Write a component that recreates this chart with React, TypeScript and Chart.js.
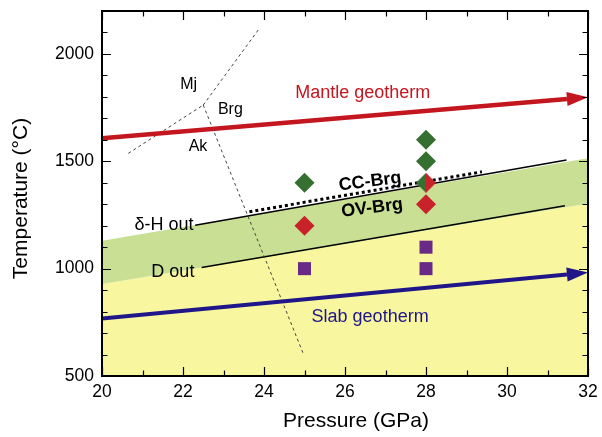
import React, { useEffect, useRef } from 'react';
import Chart from 'chart.js/auto';

// ---- axis ranges and tick labels ----
const pressureRange = [20, 32];
const temperatureRange = [500, 2200];
const pressureLabels = [20, 22, 24, 26, 28, 30, 32];
const temperatureLabels = [500, 1000, 1500, 2000];

// ---- experimental points ----
const greenDiamonds = [{ x: 25, y: 1400 }, { x: 28, y: 1600 }, { x: 28, y: 1500 }];
const redDiamonds = [{ x: 25, y: 1200 }, { x: 28, y: 1300 }];
const splitDiamonds = [{ x: 28, y: 1400 }];
const purpleSquares = [{ x: 25, y: 1000 }, { x: 28, y: 1100 }, { x: 28, y: 1000 }];

// ---- regions and boundaries ----
const yellowTop = [{ x: 20, y: 928 }, { x: 32, y: 1304 }];
const greenTop = [{ x: 20, y: 1130 }, { x: 32, y: 1514 }];
const deltaHOut = [{ x: 22.3, y: 1202 }, { x: 31.47, y: 1506 }];
const dOut = [{ x: 22.46, y: 1005 }, { x: 31.43, y: 1293 }];
const ccBrg = [{ x: 23.64, y: 1265 }, { x: 29.38, y: 1451 }];
const mjBrg = [{ x: 22.5, y: 1762 }, { x: 23.86, y: 2112 }];
const akMj = [{ x: 20.65, y: 1537 }, { x: 22.5, y: 1762 }];
const akBrg = [{ x: 22.5, y: 1762 }, { x: 24.97, y: 604 }];

// ---- geotherms (line up to arrow base) and arrow tips ----
const mantleGeotherm = [{ x: 20, y: 1607 }, { x: 31.48, y: 1790 }];
const mantleTip = { x: 32, y: 1798 };
const slabGeotherm = [{ x: 20, y: 768 }, { x: 31.48, y: 973 }];
const slabTip = { x: 32, y: 982 };

const FONT = "'Liberation Sans', Arial, Helvetica, sans-serif";
const RED_LINE = '#c3161f';
const NAVY = '#20168a';
const GREEN_PT = '#357031';
const RED_PT = '#c8222a';
const PURPLE_PT = '#682a86';
const GREEN_BAND = '#c8df94';
const YELLOW_BAND = '#f8f69e';

const annotations = [
  { text: 'Mantle geotherm', x: 26.44, y: 1818, color: RED_LINE, size: 18, weight: 'normal', rot: 0 },
  { text: 'Slab geotherm', x: 26.62, y: 775, color: NAVY, size: 18, weight: 'normal', rot: 0 },
  { text: 'CC-Brg', x: 26.62, y: 1405, color: '#000', size: 18, weight: 'bold', rot: -7 },
  { text: 'OV-Brg', x: 26.67, y: 1282, color: '#000', size: 18, weight: 'bold', rot: -7 },
  { text: 'δ-H out', x: 21.53, y: 1203, color: '#000', size: 18, weight: 'normal', rot: 0 },
  { text: 'D out', x: 21.75, y: 985, color: '#000', size: 18, weight: 'normal', rot: 0 },
  { text: 'Mj', x: 22.14, y: 1856, color: '#000', size: 16, weight: 'normal', rot: 0 },
  { text: 'Brg', x: 23.17, y: 1739, color: '#000', size: 16, weight: 'normal', rot: 0 },
  { text: 'Ak', x: 22.37, y: 1568, color: '#000', size: 16, weight: 'normal', rot: 0 },
];

const arrows = [
  { base: mantleGeotherm[mantleGeotherm.length - 1], tip: mantleTip, color: RED_LINE, half: 7 },
  { base: slabGeotherm[slabGeotherm.length - 1], tip: slabTip, color: NAVY, half: 7 },
];

export default function App() {
  const ref = useRef<HTMLCanvasElement>(null);

  useEffect(() => {
    const canvas = ref.current!;
    const split = document.createElement('canvas');
    split.width = 20;
    split.height = 20;
    const s = split.getContext('2d')!;
    s.fillStyle = GREEN_PT;
    s.beginPath(); s.moveTo(10, 0); s.lineTo(0, 10); s.lineTo(10, 20); s.closePath(); s.fill();
    s.fillStyle = RED_PT;
    s.beginPath(); s.moveTo(10, 0); s.lineTo(20, 10); s.lineTo(10, 20); s.closePath(); s.fill();

    const lineDs = (data: any[], color: string, width: number, order: number, dash: number[] = []) => ({
      data,
      borderColor: color,
      borderWidth: width,
      borderDash: dash,
      pointRadius: 0,
      fill: false,
      order,
      borderCapStyle: 'butt',
    });

    const overlay = {
      id: 'overlay',
      afterDatasetsDraw(chart: any) {
        const ctx = chart.ctx;
        const xs = chart.scales.x;
        const ys = chart.scales.y;
        // arrowheads
        arrows.forEach((a) => {
          const bx = xs.getPixelForValue(a.base.x), by = ys.getPixelForValue(a.base.y);
          const tx = xs.getPixelForValue(a.tip.x), ty = ys.getPixelForValue(a.tip.y);
          const ang = Math.atan2(ty - by, tx - bx);
          const nx = -Math.sin(ang) * a.half, ny = Math.cos(ang) * a.half;
          ctx.save();
          ctx.fillStyle = a.color;
          ctx.beginPath();
          ctx.moveTo(tx, ty);
          ctx.lineTo(bx + nx, by + ny);
          ctx.lineTo(bx - nx, by - ny);
          ctx.closePath();
          ctx.fill();
          ctx.restore();
        });
        // text labels
        annotations.forEach((t) => {
          ctx.save();
          ctx.translate(xs.getPixelForValue(t.x), ys.getPixelForValue(t.y));
          ctx.rotate((t.rot * Math.PI) / 180);
          ctx.font = `${t.weight} ${t.size}px ${FONT}`;
          ctx.fillStyle = t.color;
          ctx.textAlign = 'center';
          ctx.textBaseline = 'middle';
          ctx.fillText(t.text, 0, 0);
          ctx.restore();
        });
      },
      afterDraw(chart: any) {
        const ctx = chart.ctx;
        const a = chart.chartArea;
        const xs = chart.scales.x;
        const ys = chart.scales.y;
        ctx.save();
        ctx.strokeStyle = '#000';
        ctx.lineWidth = 1.2;
        xs.ticks.forEach((t: any) => {
          const px = Math.round(xs.getPixelForValue(t.value)) + 0.5;
          const len = pressureLabels.includes(t.value) ? 9 : 5.5;
          ctx.beginPath();
          ctx.moveTo(px, a.bottom); ctx.lineTo(px, a.bottom - len);
          ctx.moveTo(px, a.top); ctx.lineTo(px, a.top + len);
          ctx.stroke();
        });
        ys.ticks.forEach((t: any) => {
          const py = Math.round(ys.getPixelForValue(t.value)) + 0.5;
          const len = temperatureLabels.includes(t.value) ? 9 : 5.5;
          ctx.beginPath();
          ctx.moveTo(a.left, py); ctx.lineTo(a.left + len, py);
          ctx.moveTo(a.right, py); ctx.lineTo(a.right - len, py);
          ctx.stroke();
        });
        ctx.lineWidth = 2;
        ctx.strokeRect(a.left, a.top, a.right - a.left, a.bottom - a.top);
        // axis titles
        ctx.fillStyle = '#000';
        ctx.font = `21px ${FONT}`;
        ctx.textAlign = 'center';
        ctx.textBaseline = 'middle';
        ctx.fillText('Pressure (GPa)', 356, 421);
        ctx.translate(21, 198.5);
        ctx.rotate(-Math.PI / 2);
        ctx.fillText('Temperature (°C)', 0, 0);
        ctx.restore();
      },
    };

    const chart = new Chart(canvas, {
      type: 'line',
      data: {
        datasets: [
          { data: yellowTop, borderWidth: 0, pointRadius: 0, backgroundColor: YELLOW_BAND, fill: 'start', order: 20 },
          { data: greenTop, borderWidth: 0, pointRadius: 0, backgroundColor: GREEN_BAND, fill: '-1', order: 19 },
          lineDs(deltaHOut, '#000', 1.5, 18),
          lineDs(dOut, '#000', 1.5, 17),
          lineDs(ccBrg, '#000', 3, 16, [3, 3]),
          lineDs(mjBrg, '#444', 1, 15, [3, 3]),
          lineDs(akMj, '#444', 1, 14, [3, 3]),
          lineDs(akBrg, '#444', 1, 13, [3, 3]),
          lineDs(mantleGeotherm, RED_LINE, 4.5, 12),
          lineDs(slabGeotherm, NAVY, 4, 11),
          { data: greenDiamonds, showLine: false, pointStyle: 'rectRot', pointRadius: 10, pointBackgroundColor: GREEN_PT, pointBorderWidth: 0, order: 4 },
          { data: redDiamonds, showLine: false, pointStyle: 'rectRot', pointRadius: 10, pointBackgroundColor: RED_PT, pointBorderWidth: 0, order: 3 },
          { data: splitDiamonds, showLine: false, pointStyle: split, pointRadius: 10, pointBorderWidth: 0, order: 2 },
          { data: purpleSquares, showLine: false, pointStyle: 'rect', pointRadius: 9.2, pointBackgroundColor: PURPLE_PT, pointBorderWidth: 0, order: 1 },
        ] as any,
      },
      options: {
        animation: false,
        responsive: false,
        devicePixelRatio: 1,
        events: [],
        layout: { padding: { top: 11, right: 14, left: 0, bottom: 0 } },
        plugins: { legend: { display: false }, tooltip: { enabled: false }, title: { display: false } },
        scales: {
          x: {
            type: 'linear',
            min: pressureRange[0],
            max: pressureRange[1],
            grid: { display: false, drawTicks: false },
            border: { display: false },
            ticks: {
              stepSize: 1,
              maxTicksLimit: 100,
              autoSkip: false,
              maxRotation: 0,
              padding: 6,
              color: '#000',
              font: { family: FONT, size: 17.5 },
              callback: (v: any) => (pressureLabels.includes(Number(v)) ? String(v) : ''),
            },
            afterFit: (scale: any) => {
              scale.height = 61;
              scale.paddingLeft = 0;
              scale.paddingRight = 0;
            },
          },
          y: {
            type: 'linear',
            min: temperatureRange[0],
            max: temperatureRange[1],
            grid: { display: false, drawTicks: false },
            border: { display: false },
            ticks: {
              stepSize: 100,
              maxTicksLimit: 100,
              autoSkip: false,
              padding: 8,
              color: '#000',
              font: { family: FONT, size: 17.5 },
              callback: (v: any) => (temperatureLabels.includes(Number(v)) ? String(v) : ''),
            },
            afterFit: (scale: any) => {
              scale.width = 102;
              scale.paddingTop = 0;
              scale.paddingBottom = 0;
            },
          },
        },
      } as any,
      plugins: [overlay],
    });
    return () => chart.destroy();
  }, []);

  return (
    <div style={{ position: 'fixed', left: 0, top: 0, width: 602, height: 437, background: '#fff' }}>
      <canvas ref={ref} width={602} height={437} style={{ display: 'block' }} />
    </div>
  );
}
